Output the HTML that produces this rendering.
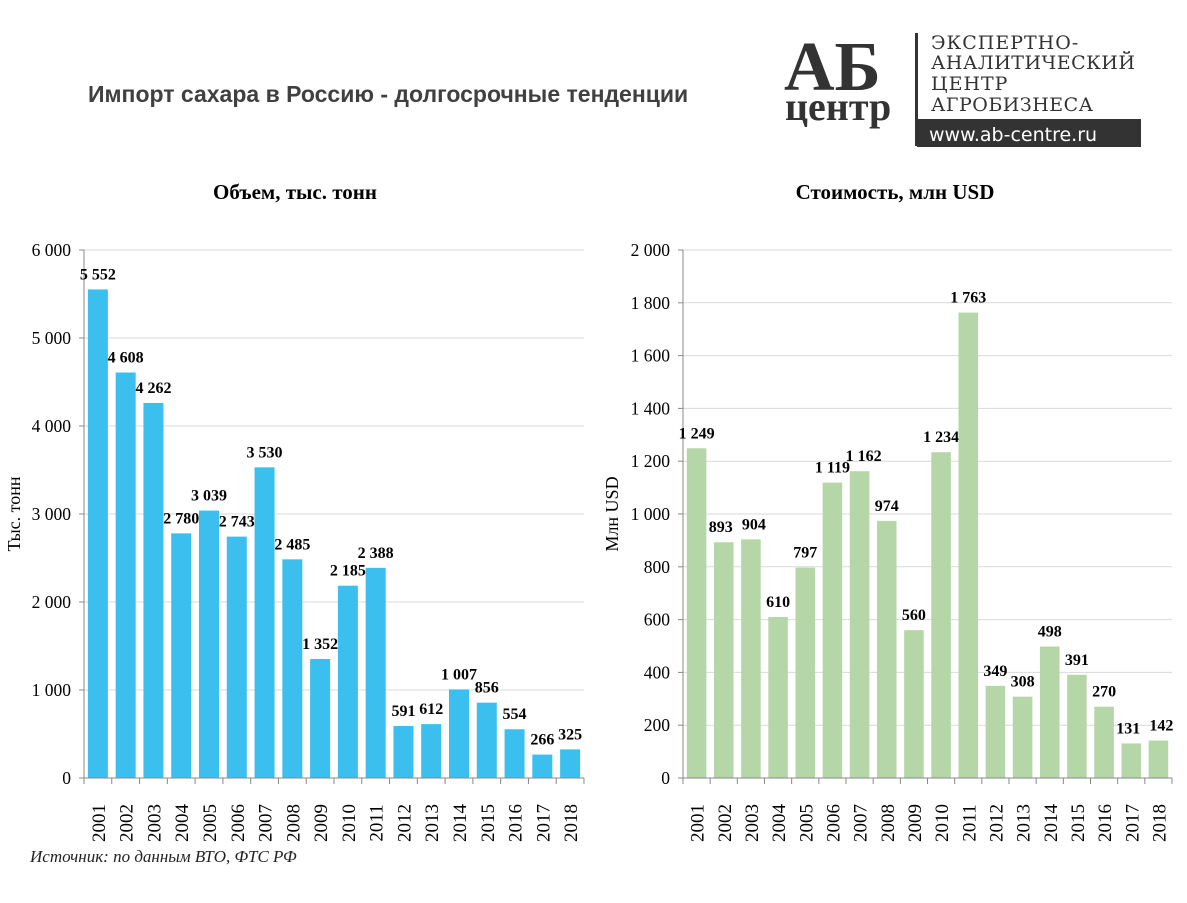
<!DOCTYPE html>
<html><head><meta charset="utf-8"><style>
body{margin:0;background:#fff;width:1187px;height:898px;overflow:hidden;font-family:"Liberation Serif",serif}
</style></head><body>
<svg id="s" width="1187" height="898" xmlns="http://www.w3.org/2000/svg">
<text x="88" y="102" font-family="Liberation Sans, sans-serif" font-weight="bold" font-size="23" fill="#404040">Импорт сахара в Россию - долгосрочные тенденции</text>
<g>
<text x="784" y="90" font-family="Liberation Serif, serif" font-weight="bold" font-size="70" fill="#333">АБ</text>
<text x="785" y="120" font-family="Liberation Serif, serif" font-weight="bold" font-size="40" fill="#333">центр</text>
<rect x="915" y="33" width="3" height="113" fill="#333"/>
<text x="931" y="49" font-family="DejaVu Serif, serif" font-size="19" fill="#333" letter-spacing="1">ЭКСПЕРТНО-</text>
<text x="931" y="69" font-family="DejaVu Serif, serif" font-size="19" fill="#333" letter-spacing="0.5">АНАЛИТИЧЕСКИЙ</text>
<text x="931" y="90" font-family="DejaVu Serif, serif" font-size="19" fill="#333" letter-spacing="1">ЦЕНТР</text>
<text x="931" y="111" font-family="DejaVu Serif, serif" font-size="19" fill="#333" letter-spacing="0.5">АГРОБИЗНЕСА</text>
<rect x="917" y="119" width="224" height="28" fill="#333"/>
<text x="929" y="141" font-family="DejaVu Sans, sans-serif" font-size="19" fill="#fff">www.ab-centre.ru</text>
</g>
<text x="295" y="199" text-anchor="middle" font-weight="bold" font-size="21">Объем, тыс. тонн</text>
<text x="895" y="199" text-anchor="middle" font-weight="bold" font-size="21">Стоимость, млн USD</text>
<text x="30" y="862" font-style="italic" font-size="17" fill="#222">Источник: по данным ВТО, ФТС РФ</text>
<g id="L"></g>
<g id="R"></g>
</svg>
<script>
const years=["2001","2002","2003","2004","2005","2006","2007","2008","2009","2010","2011","2012","2013","2014","2015","2016","2017","2018"];
const volume=[5552,4608,4262,2780,3039,2743,3530,2485,1352,2185,2388,591,612,1007,856,554,266,325];
const valueUsd=[1249,893,904,610,797,1119,1162,974,560,1234,1763,349,308,498,391,270,131,142];
const volTicks=[0,1000,2000,3000,4000,5000,6000];
const valTicks=[0,200,400,600,800,1000,1200,1400,1600,1800,2000];
const NS="http://www.w3.org/2000/svg";
function fmt(v){return String(v).replace(/\B(?=(\d{3})+(?!\d))/g," ");}
function el(p,t,a,txt){const e=document.createElementNS(NS,t);for(const k in a)e.setAttribute(k,a[k]);if(txt!=null)e.textContent=txt;p.appendChild(e);return e;}
function chart(g,vals,ticks,max,x0,x1,color,ytitle,ytx,labelOffsets){
 const y0=778,yt=250,slot=(x1-x0)/vals.length,bw=slot*0.72;
 const Y=v=>y0-(v/max)*(y0-yt);
 ticks.forEach(t=>{
  if(t>0){const gl=el(g,"line",{x1:x0,x2:x1,y1:Y(t),y2:Y(t),stroke:"#d9d9d9"});
  
  }
  const tl=el(g,"text",{x:x0-13,y:Y(t)+6,"text-anchor":"end","font-size":"17.5"},fmt(t));
  
  
  el(g,"line",{x1:x0-5,x2:x0,y1:Y(t),y2:Y(t),stroke:"#888"});
 });
 el(g,"line",{x1:x0,x2:x0,y1:yt,y2:y0,stroke:"#888"});
 vals.forEach((v,i)=>{
  const cx=x0+slot*(i+0.5);
  const b=el(g,"rect",{x:cx-bw/2,y:Y(v),width:bw,height:y0-Y(v),fill:color});
  
  
  const off=labelOffsets?labelOffsets[i]:0;
  const lb=el(g,"text",{x:cx+off,y:Y(v)-10,"text-anchor":"middle","font-size":"16","font-weight":"bold"},fmt(v));
  
  
  el(g,"line",{x1:x0+slot*i,x2:x0+slot*i,y1:y0,y2:y0+6,stroke:"#888"});
  const xl=el(g,"text",{transform:`translate(${cx+7},${y0+45}) rotate(-90)`,"text-anchor":"middle","font-size":"19"},years[i]);
  
  
 });
 el(g,"line",{x1:x1,x2:x1,y1:y0,y2:y0+6,stroke:"#888"});
 el(g,"line",{x1:x0,x2:x1,y1:y0,y2:y0,stroke:"#888"});
 const yt2=el(g,"text",{transform:`translate(${ytx},514) rotate(-90)`,"text-anchor":"middle","font-size":"18"},ytitle);
 
 
}
chart(document.getElementById("L"),volume,volTicks,6000,84,584,"#3bbfee","Тыс. тонн",20,null);
chart(document.getElementById("R"),valueUsd,valTicks,2000,683,1172,"#b5d7a8","Млн USD",618,[0,-3,3,0,0,0,4,0,0,0,0,0,0,0,0,0,-3,3]);
</script>
</body></html>
